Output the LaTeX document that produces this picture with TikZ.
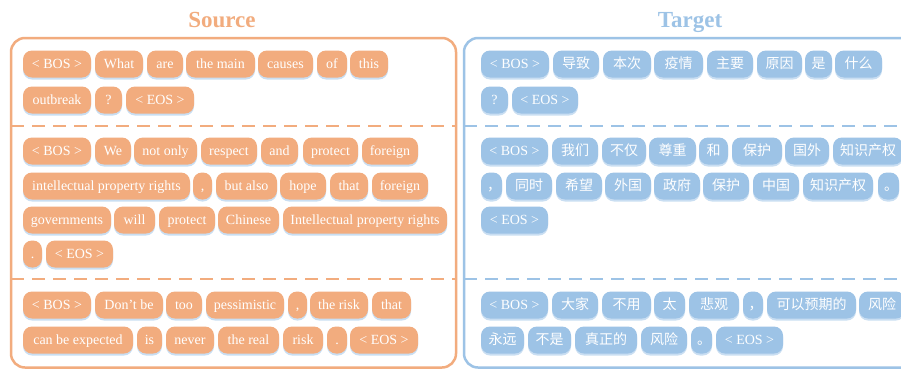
\documentclass[tikz,border=0pt]{standalone}
\usepackage{fontspec}
\setmainfont{Liberation Serif}
\newfontfamily\cjk{Noto Sans CJK SC}
\usetikzlibrary{shadows}
\definecolor{orS}{HTML}{F2AC7E}
\definecolor{blT}{HTML}{9DC3E6}
\definecolor{shd}{HTML}{B8D4EE}
\tikzset{
  tokbase/.style={rectangle, rounded corners=9pt, inner sep=0pt, minimum height=27pt,
    text=white, draw=none,
    drop shadow={fill=shd, opacity=0.75, shadow xshift=0pt, shadow yshift=-2pt}},
  tokS/.style={tokbase, fill=orS, font=\fontsize{14}{15}\selectfont, text height=10.5pt, text depth=2.5pt},
  tokT/.style={tokbase, fill=blT, font=\fontsize{14}{15}\selectfont\cjk, text height=11pt, text depth=1.5pt},
  tokTe/.style={tokbase, fill=blT, font=\fontsize{14}{15}\selectfont, text height=10.5pt, text depth=2.5pt},
  frameS/.style={draw=orS, line width=2.5pt, rounded corners=14pt},
  frameT/.style={draw=blT, line width=2.5pt, rounded corners=14pt},
  sepline/.style={line width=2pt, dash pattern=on 13pt off 8pt},
  title/.style={font=\fontsize{23}{26}\selectfont\bfseries, inner sep=0pt, anchor=base}
}
\newcommand\mytok[6]{\node[#1, minimum width={(#4-#3)*1pt}] (#2) at ({(#3+#4)/2},#5) {#6};}
\begin{document}
\begin{tikzpicture}[x=1pt,y=-1pt]
\useasboundingbox (0,0) rectangle (901,370);
\clip (0,0) rectangle (901,370);
\fill[white] (0,0) rectangle (901,370);
% titles
\node[title, text=orS] (tsrc) at (222,27) {Source};
\node[title, text=blT] (ttgt) at (690,27) {Target};
% frames
\draw[frameS] (11,38) rectangle (456,367.5);
\draw[frameT] (464,38) rectangle (925,367.5);
\draw[sepline, orS] (11,126) -- (456,126);
\draw[sepline, orS] (11,279) -- (456,279);
\draw[sepline, blT] (464,126) -- (901,126);
\draw[sepline, blT] (464,279) -- (901,279);
% ---------- Source ----------
\mytok{tokS}{sa1}{23}{91}{64}{< BOS >}
\mytok{tokS}{sa2}{95}{143}{64}{What}
\mytok{tokS}{sa3}{147}{183}{64}{are}
\mytok{tokS}{sa4}{186}{255}{64}{the main}
\mytok{tokS}{sa5}{258}{313}{64}{causes}
\mytok{tokS}{sa6}{317}{347}{64}{of}
\mytok{tokS}{sa7}{350}{388}{64}{this}
\mytok{tokS}{sa8}{23}{91}{100}{outbreak}
\mytok{tokS}{sa9}{95}{122}{100}{?}
\mytok{tokS}{sa10}{126}{194}{100}{< EOS >}
%
\mytok{tokS}{sb1}{23}{91}{151}{< BOS >}
\mytok{tokS}{sb2}{95}{131}{151}{We}
\mytok{tokS}{sb3}{134}{197}{151}{not only}
\mytok{tokS}{sb4}{201}{257}{151}{respect}
\mytok{tokS}{sb5}{261}{298}{151}{and}
\mytok{tokS}{sb6}{303}{358}{151}{protect}
\mytok{tokS}{sb7}{362}{418}{151}{foreign}
\mytok{tokS}{sb8}{23}{190}{186}{intellectual property rights}
\mytok{tokS}{sb9}{193}{212}{186}{,}
\mytok{tokS}{sb10}{216}{277}{186}{but also}
\mytok{tokS}{sb11}{280}{326}{186}{hope}
\mytok{tokS}{sb12}{330}{368}{186}{that}
\mytok{tokS}{sb13}{372}{428}{186}{foreign}
\mytok{tokS}{sb14}{23}{111}{220}{governments}
\mytok{tokS}{sb15}{114}{155}{220}{will}
\mytok{tokS}{sb16}{159}{215}{220}{protect}
\mytok{tokS}{sb17}{218}{279}{220}{Chinese}
\mytok{tokS}{sb18}{283}{447}{220}{Intellectual property rights}
\mytok{tokS}{sb19}{23}{42}{254}{.}
\mytok{tokS}{sb20}{46}{113}{254}{< EOS >}
%
\mytok{tokS}{sc1}{23}{91}{305}{< BOS >}
\mytok{tokS}{sc2}{95}{163}{305}{Don’t be}
\mytok{tokS}{sc3}{166}{202}{305}{too}
\mytok{tokS}{sc4}{206}{284}{305}{pessimistic}
\mytok{tokS}{sc5}{288}{307}{305}{,}
\mytok{tokS}{sc6}{310}{368}{305}{the risk}
\mytok{tokS}{sc7}{372}{411}{305}{that}
\mytok{tokS}{sc8}{23}{133}{340}{can be expected}
\mytok{tokS}{sc9}{137}{162}{340}{is}
\mytok{tokS}{sc10}{166}{214}{340}{never}
\mytok{tokS}{sc11}{218}{279}{340}{the real}
\mytok{tokS}{sc12}{283}{323}{340}{risk}
\mytok{tokS}{sc13}{327}{347}{340}{.}
\mytok{tokS}{sc14}{350}{418}{340}{< EOS >}
% ---------- Target ----------
\mytok{tokTe}{ta1}{481}{549}{64}{< BOS >}
\mytok{tokT}{ta2}{553}{599}{64}{导致}
\mytok{tokT}{ta3}{603}{651}{64}{本次}
\mytok{tokT}{ta4}{654}{703}{64}{疫情}
\mytok{tokT}{ta5}{707}{753}{64}{主要}
\mytok{tokT}{ta6}{757}{802}{64}{原因}
\mytok{tokT}{ta7}{805}{832}{64}{是}
\mytok{tokT}{ta8}{835}{882}{64}{什么}
\mytok{tokTe}{ta9}{481}{508}{100}{?}
\mytok{tokTe}{ta10}{512}{578}{100}{< EOS >}
%
\mytok{tokTe}{tb1}{481}{548}{151}{< BOS >}
\mytok{tokT}{tb2}{552}{598}{151}{我们}
\mytok{tokT}{tb3}{602}{646}{151}{不仅}
\mytok{tokT}{tb4}{649}{696}{151}{尊重}
\mytok{tokT}{tb5}{699}{728}{151}{和}
\mytok{tokT}{tb6}{732}{782}{151}{保护}
\mytok{tokT}{tb7}{785}{829}{151}{国外}
\mytok{tokT}{tb8}{833}{903}{151}{知识产权}
\mytok{tokT}{tb9}{481}{502}{186}{\hspace*{5pt}，}
\mytok{tokT}{tb10}{506}{552}{186}{同时}
\mytok{tokT}{tb11}{556}{602}{186}{希望}
\mytok{tokT}{tb12}{605}{651}{186}{外国}
\mytok{tokT}{tb13}{654}{700}{186}{政府}
\mytok{tokT}{tb14}{703}{749}{186}{保护}
\mytok{tokT}{tb15}{753}{799}{186}{中国}
\mytok{tokT}{tb16}{803}{873}{186}{知识产权}
\mytok{tokT}{tb17}{878}{899}{186}{\hspace*{5pt}。}
\mytok{tokTe}{tb18}{481}{548}{220}{< EOS >}
%
\mytok{tokTe}{tc1}{481}{548}{305}{< BOS >}
\mytok{tokT}{tc2}{552}{598}{305}{大家}
\mytok{tokT}{tc3}{602}{651}{305}{不用}
\mytok{tokT}{tc4}{654}{685}{305}{太}
\mytok{tokT}{tc5}{689}{739}{305}{悲观}
\mytok{tokT}{tc6}{743}{763}{305}{\hspace*{5pt}，}
\mytok{tokT}{tc7}{767}{856}{305}{可以预期的}
\mytok{tokT}{tc8}{859}{905}{305}{风险}
\mytok{tokT}{tc9}{481}{524}{340}{永远}
\mytok{tokT}{tc10}{528}{571}{340}{不是}
\mytok{tokT}{tc11}{575}{637}{340}{真正的}
\mytok{tokT}{tc12}{641}{687}{340}{风险}
\mytok{tokT}{tc13}{691}{712}{340}{\hspace*{5pt}。}
\mytok{tokTe}{tc14}{716}{783}{340}{< EOS >}
\end{tikzpicture}
\end{document}
